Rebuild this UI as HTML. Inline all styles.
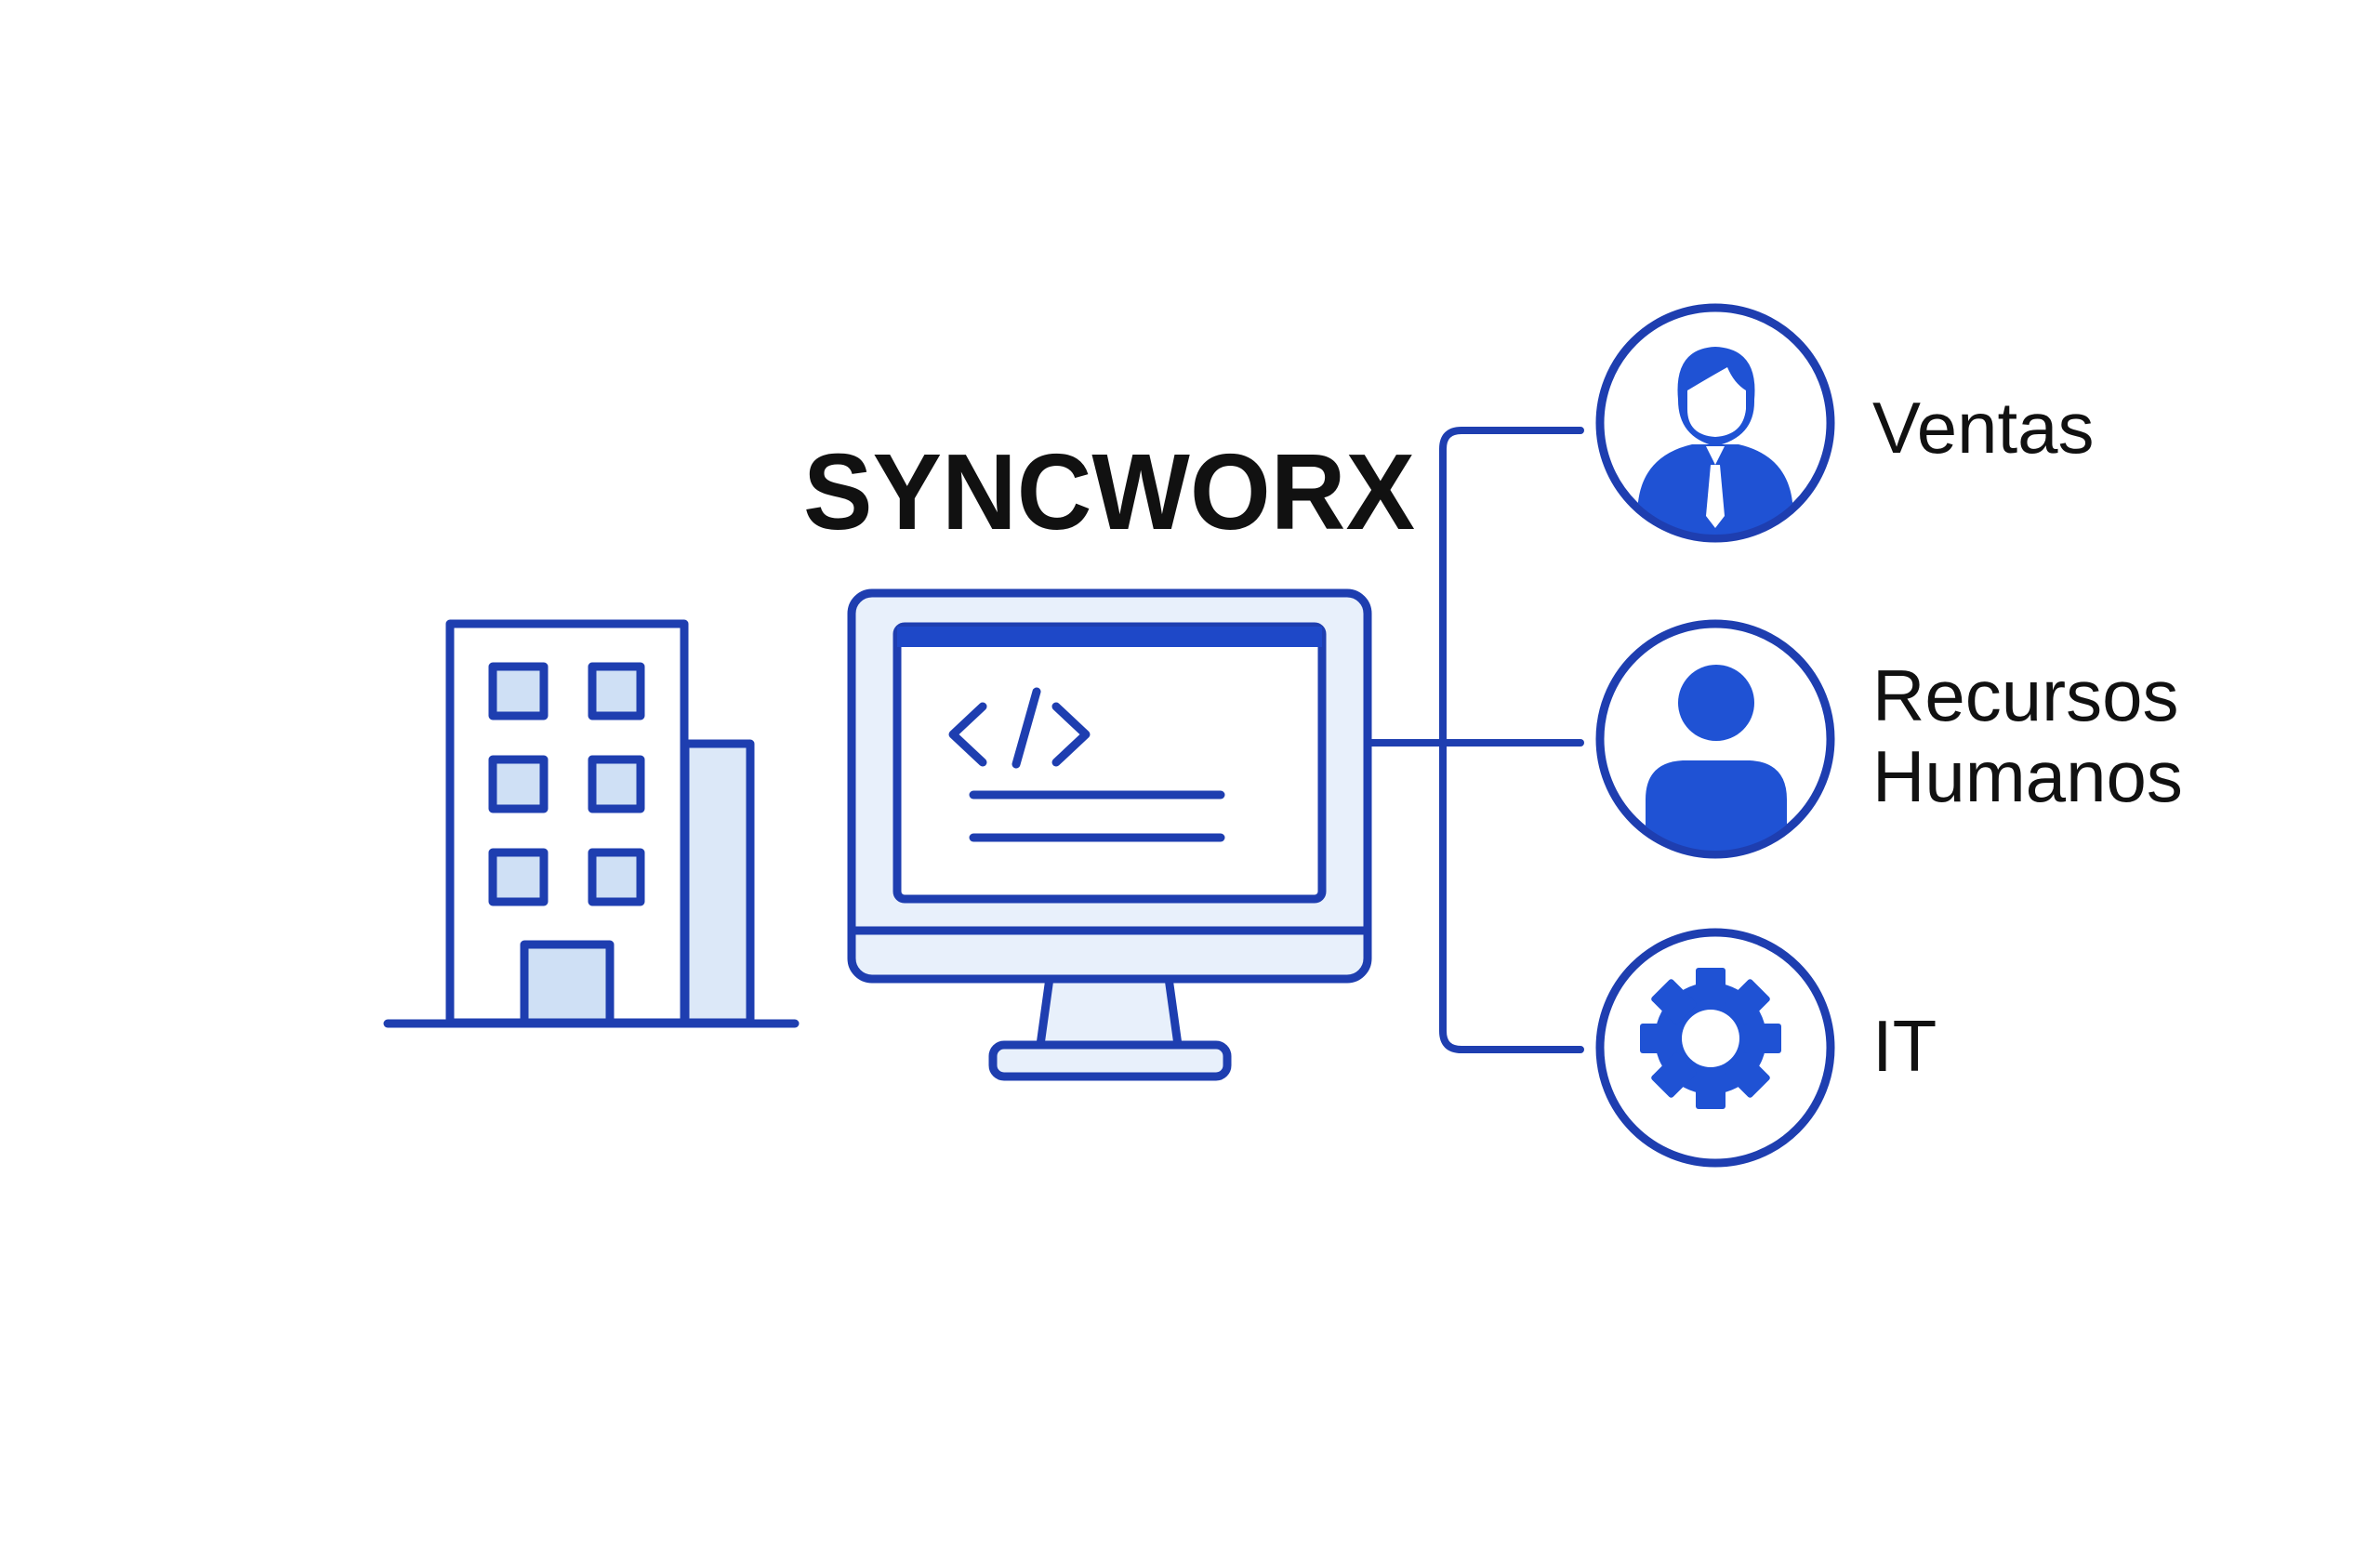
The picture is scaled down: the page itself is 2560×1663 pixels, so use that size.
<!DOCTYPE html>
<html><head><meta charset="utf-8"><style>
html,body{margin:0;padding:0;background:#fff;}
svg{display:block;}
text{font-family:"Liberation Sans",sans-serif;}
</style></head><body>
<svg width="2560" height="1663" viewBox="0 0 2560 1663" xmlns="http://www.w3.org/2000/svg">
<rect width="2560" height="1663" fill="#fff"/>
<g stroke="#1e3eb0" stroke-width="9" fill="none" stroke-linejoin="round" stroke-linecap="round">
<rect x="737" y="800" width="70" height="300" fill="#dce8f8"/>
<rect x="484" y="671" width="252" height="429" fill="#fff"/>
<rect x="530" y="717" width="55" height="53" fill="#cfe0f5"/>
<rect x="637" y="717" width="52" height="53" fill="#cfe0f5"/>
<rect x="530" y="817" width="55" height="53" fill="#cfe0f5"/>
<rect x="637" y="817" width="52" height="53" fill="#cfe0f5"/>
<rect x="530" y="917" width="55" height="53" fill="#cfe0f5"/>
<rect x="637" y="917" width="52" height="53" fill="#cfe0f5"/>
<rect x="564" y="1016" width="92" height="84" fill="#cfe0f5"/>
<line x1="417" y1="1101" x2="855" y2="1101"/>
<path d="M1129 1052 L1119 1124 L1267 1124 L1257 1052 Z" fill="#e8f0fb"/>
<rect x="1068" y="1124" width="252" height="34" rx="12" fill="#e8f0fb"/>
<rect x="916" y="638" width="555" height="415" rx="22" fill="#e8f0fb"/>
<line x1="918" y1="1001" x2="1469" y2="1001"/>
<rect x="965" y="674" width="457" height="293" rx="8" fill="#fff"/>
<rect x="965" y="674" width="457" height="22" fill="#1e48c8" stroke="none"/>
<polyline points="1057,760 1025,790 1057,820" stroke-width="9"/>
<line x1="1093" y1="822" x2="1115" y2="744" stroke-width="9"/>
<polyline points="1136,760 1168,790 1136,820" stroke-width="9"/>
<line x1="1047" y1="855" x2="1313" y2="855" stroke-width="9"/>
<line x1="1047" y1="901" x2="1313" y2="901" stroke-width="9"/>
<line x1="1471" y1="799" x2="1700" y2="799" stroke-width="8"/>
<path d="M1700 463 L1572 463 Q1552 463 1552 483 L1552 1109 Q1552 1129 1572 1129 L1700 1129" stroke-width="8"/>
<circle cx="1845" cy="455" r="124" fill="#fff"/>
<circle cx="1845" cy="795" r="124" fill="#fff"/>
<circle cx="1845" cy="1127" r="124" fill="#fff"/>
</g>
<g fill="#1f52d4">
<clipPath id="c1"><circle cx="1845" cy="455" r="120"/></clipPath>
<g clip-path="url(#c1)">
<path d="M1760 590 L1762 540 Q1768 490 1820 478 L1870 478 Q1922 490 1928 540 L1930 590 Z"/>
<path d="M1835 480 L1845 500 L1855 480 Z" fill="#fff"/>
<path d="M1840 500 L1850 500 L1855 555 L1845 568 L1835 555 Z" fill="#fff"/>
</g>
<path d="M1805 430 Q1800 375 1845 373 Q1892 375 1887 430 Q1888 470 1845 480 Q1805 470 1805 430 Z"/>
<path d="M1815 420 Q1840 405 1858 395 Q1865 412 1878 420 L1878 440 Q1875 468 1845 470 Q1815 468 1815 440 Z" fill="#fff"/>
<clipPath id="c2"><circle cx="1845" cy="795" r="120"/></clipPath>
<circle cx="1846" cy="756" r="41"/>
<g clip-path="url(#c2)"><path d="M1770 930 L1770 860 Q1770 820 1810 818 L1882 818 Q1922 820 1922 860 L1922 930 Z"/></g>
<g transform="translate(1840,1117)">
<circle r="60"/>
<rect x="-16" y="-76" width="32" height="40" rx="3"/>
<rect x="-16" y="-76" width="32" height="40" rx="3" transform="rotate(45)"/>
<rect x="-16" y="-76" width="32" height="40" rx="3" transform="rotate(90)"/>
<rect x="-16" y="-76" width="32" height="40" rx="3" transform="rotate(135)"/>
<rect x="-16" y="-76" width="32" height="40" rx="3" transform="rotate(180)"/>
<rect x="-16" y="-76" width="32" height="40" rx="3" transform="rotate(225)"/>
<rect x="-16" y="-76" width="32" height="40" rx="3" transform="rotate(270)"/>
<rect x="-16" y="-76" width="32" height="40" rx="3" transform="rotate(315)"/>
<circle r="31" fill="#fff"/>
</g>
</g>
<text x="864" y="569" font-size="116" font-weight="bold" fill="#111" textLength="658" lengthAdjust="spacingAndGlyphs">SYNCWORX</text>
<g font-size="78" fill="#111">
<text x="2014" y="487">Ventas</text>
<text x="2014" y="775">Recursos</text>
<text x="2014" y="862">Humanos</text>
<text x="2014" y="1152">IT</text>
</g>
</svg>
</body></html>
